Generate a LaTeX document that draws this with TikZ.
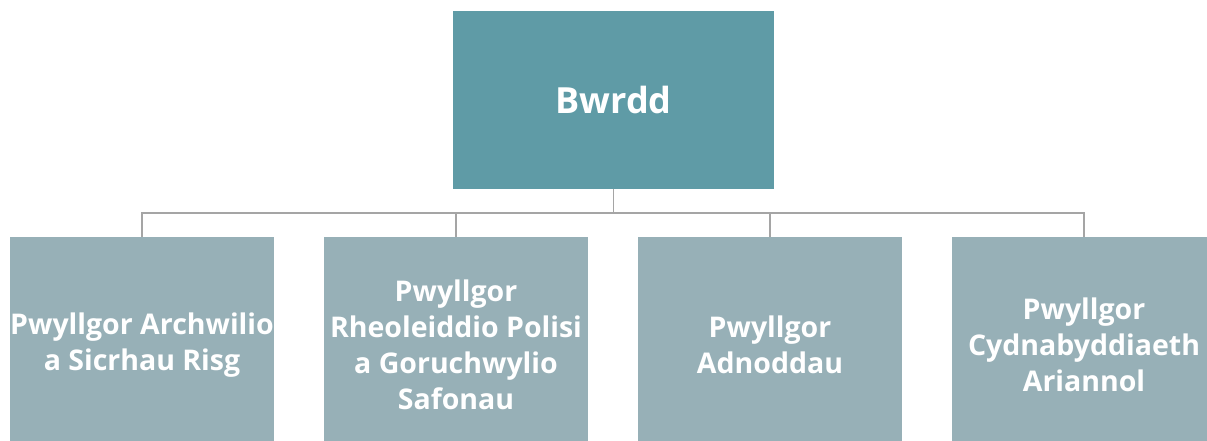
\documentclass[tikz,border=0pt]{standalone}
\usepackage{fontspec}
\setmainfont{Open Sans}
\definecolor{topc}{HTML}{5F9BA6}
\definecolor{subc}{HTML}{97B0B7}
\definecolor{linec}{HTML}{A5A5A5}
\begin{document}
\begin{tikzpicture}[x=1pt,y=-1pt,
  topbox/.style={fill=topc,draw=none,minimum width=321pt,minimum height=177pt,inner sep=0pt,
    font=\fontsize{36}{44}\selectfont\bfseries,text=white},
  subbox/.style={fill=subc,draw=none,minimum width=264pt,minimum height=216pt,inner sep=0pt,
    align=center,font=\fontsize{28.5}{36}\selectfont\bfseries,text=white},
  conn/.style={draw=linec,line width=1.6pt}]
\useasboundingbox (0,0) rectangle (1207,441);
\clip (0,0) rectangle (1207,441);
\node[topbox] (top) at (613.5,100) {Bwrdd};
\node[subbox] (a) at (142,345) {Pwyllgor Archwilio\\a Sicrhau Risg};
\node[subbox] (b) at (456,345) {Pwyllgor\\Rheoleiddio Polisi\\a Goruchwylio\\Safonau};
\node[subbox] (c) at (770,345) {Pwyllgor\\Adnoddau};
\node[subbox] (d) at (1084,345) {Pwyllgor\\Cydnabyddiaeth\\Ariannol};
\coordinate (hy) at (0,213);
\draw[conn] (top.south) -- (top.south |- hy);
\foreach \n in {a,b,c,d}{\draw[conn] (top.south |- hy) -| (\n.north);}
\end{tikzpicture}
\end{document}
